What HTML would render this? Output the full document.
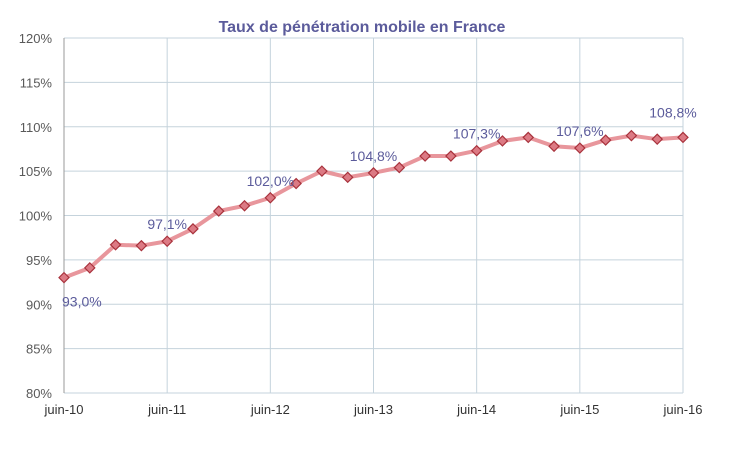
<!DOCTYPE html>
<html><head><meta charset="utf-8"><style>
body{margin:0;background:#fff;width:733px;height:469px;overflow:hidden;font-family:"Liberation Sans",sans-serif}
</style></head><body>
<svg width="733" height="469" id="c"></svg>
<script>
const categories=["juin-10","sept-10","déc-10","mars-11","juin-11","sept-11","déc-11","mars-12","juin-12","sept-12","déc-12","mars-13","juin-13","sept-13","déc-13","mars-14","juin-14","sept-14","déc-14","mars-15","juin-15","sept-15","déc-15","mars-16","juin-16"];
const values=[93.0,94.1,96.7,96.6,97.1,98.5,100.5,101.1,102.0,103.6,105.0,104.3,104.8,105.4,106.7,106.7,107.3,108.4,108.8,107.8,107.6,108.5,109.0,108.6,108.8];
const yTicks=[80,85,90,95,100,105,110,115,120];
const xTickLabels=["juin-10","juin-11","juin-12","juin-13","juin-14","juin-15","juin-16"];
const labelIdx=[0,4,8,12,16,20,24];
const NS="http://www.w3.org/2000/svg";
const svg=document.getElementById('c');
const x0=64,x1=683,y0=393,y1=38;
const X=i=>x0+(x1-x0)*i/(categories.length-1);
const Y=v=>y0-(v-80)*(y0-y1)/40;
function mk(t,a,p){const e=document.createElementNS(NS,t);for(const k in a)e.setAttribute(k,a[k]);(p||svg).appendChild(e);return e;}
const title=mk('text',{x:362,y:32,'text-anchor':'middle','font-size':16,'font-weight':'bold',fill:'#5b5b9b'});
title.textContent="Taux de pénétration mobile en France";


yTicks.forEach(v=>{
 const l=mk('line',{x1:x0,x2:x1,y1:Y(v),y2:Y(v),stroke:'#c5d3dc','stroke-width':1});
 
 
 const t=mk('text',{x:52,y:Y(v)+5,'text-anchor':'end','font-size':13,fill:'#595959'});
 t.textContent=v+'%';
 
 
});
xTickLabels.forEach((s,k)=>{
 const i=k*4;
 const l=mk('line',{x1:X(i),x2:X(i),y1:y1,y2:y0,stroke:'#c5d3dc','stroke-width':1});
 
 
 const t=mk('text',{x:X(i),y:y0+21,'text-anchor':'middle','font-size':13,fill:'#333'});
 t.textContent=s;
 
 
});
const ax=mk('line',{x1:x0,x2:x0,y1:y1,y2:y0,stroke:'#999','stroke-width':1});


const line=mk('polyline',{points:values.map((v,i)=>X(i)+','+Y(v)).join(' '),fill:'none',stroke:'#e8969c','stroke-width':4,'stroke-linejoin':'round'});


values.forEach((v,i)=>{
 const x=X(i),y=Y(v),r=5;
 const p=mk('polygon',{points:`${x},${y-r} ${x+r},${y} ${x},${y+r} ${x-r},${y}`,fill:'#dc7a84',stroke:'#a8323c','stroke-width':1.2});
 
 
});
labelIdx.forEach(i=>{
 const v=values[i];
 let x=X(i),y=Y(v)-12,anchor='middle';
 if(i===0){x=X(i)-2;y=Y(v)+29;anchor='start';}
 if(i===values.length-1){x=X(i)-10;y=Y(v)-20;}
 const t=mk('text',{x:x,y:y,'text-anchor':anchor,'font-size':14,fill:'#5b5b9b'});
 t.textContent=v.toFixed(1).replace('.',',')+'%';
 
 
});
</script>
</body></html>
